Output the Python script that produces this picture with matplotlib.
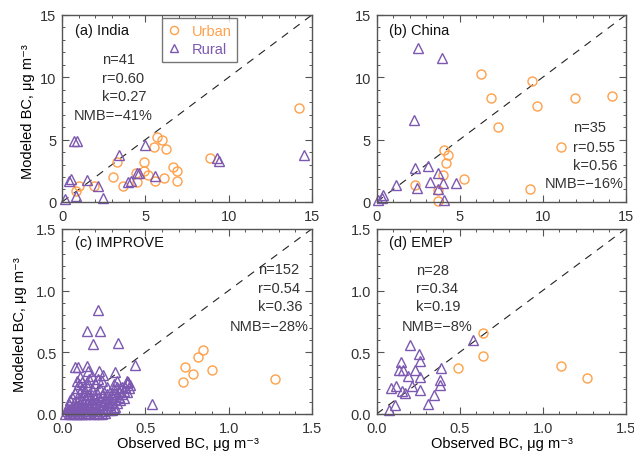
import matplotlib.pyplot as plt
from matplotlib.ticker import MultipleLocator

india_urb_obs = [14.24, 8.88, 5.72, 5.98, 5.52, 6.24, 3.32, 4.94, 4.94, 5.18, 6.68,
                 6.88, 6.88, 6.12, 5.58, 4.52, 4.44, 3.68, 3.08, 1.92, 1.02, 0.82]
india_urb_mod = [7.53, 3.56, 5.19, 4.95, 4.38, 4.25, 3.18, 3.22, 2.50, 2.14, 2.78,
                 2.46, 1.66, 1.92, 1.71, 1.58, 2.30, 1.31, 1.98, 1.31, 1.26, 0.84]
india_rur_obs = [0.72, 0.92, 4.98, 3.44, 9.28, 9.44, 14.54, 0.54, 0.44, 1.48, 2.16,
                 3.98, 4.12, 4.48, 4.60, 5.58, 0.82, 0.18, 2.48]
india_rur_mod = [4.87, 4.87, 4.60, 3.80, 3.53, 3.31, 3.75, 1.84, 1.66, 1.76, 1.28,
                 1.58, 1.71, 2.30, 2.30, 2.11, 0.51, 0.24, 0.32]

china_urb_obs = [6.30, 9.38, 6.90, 11.97, 14.18, 9.68, 7.30, 11.09, 4.07, 4.31, 4.15,
                 4.01, 5.27, 2.31, 3.67, 9.26, 3.67]
china_urb_mod = [10.27, 9.68, 8.36, 8.36, 8.47, 7.72, 6.00, 4.42, 4.18, 3.75, 3.16,
                 2.14, 1.82, 1.34, 0.99, 1.05, 0.10]
china_rur_obs = [2.49, 3.91, 2.25, 2.29, 3.10, 3.69, 1.15, 3.20, 4.00, 4.76, 2.41,
                 4.06, 0.36, 0.30, 0.10, 3.70]
china_rur_mod = [12.33, 11.53, 6.60, 2.70, 2.88, 2.29, 1.35, 1.57, 1.48, 1.48, 1.08,
                 0.12, 0.52, 0.32, 0.18, 1.02]

improve_urb_obs = [0.847, 0.817, 0.737, 0.787, 0.897, 0.727, 1.276]
improve_urb_mod = [0.52, 0.46, 0.38, 0.32, 0.36, 0.26, 0.28]
improve_rur_obs = [0.218, 0.148, 0.228, 0.188, 0.338, 0.438, 0.538, 0.078, 0.098, 0.148,
                   0.158, 0.224, 0.318, 0.248, 0.088, 0.148, 0.218, 0.388, 0.398, 0.408,
                   0.358, 0.33, 0.31,
                   0.02, 0.03, 0.03, 0.04, 0.04, 0.05, 0.05, 0.05, 0.06, 0.06, 0.06, 0.07,
                   0.07, 0.07, 0.08, 0.08, 0.08, 0.09, 0.09, 0.09, 0.10, 0.10, 0.10, 0.10,
                   0.11, 0.11, 0.11, 0.12, 0.12, 0.12, 0.12, 0.13, 0.13, 0.13, 0.14, 0.14,
                   0.14, 0.15, 0.15, 0.15, 0.16, 0.16, 0.16, 0.17, 0.17, 0.17, 0.18, 0.18,
                   0.18, 0.19, 0.19, 0.20, 0.20, 0.20, 0.21, 0.21, 0.22, 0.22, 0.22, 0.23,
                   0.23, 0.23, 0.24, 0.24, 0.25, 0.25, 0.25, 0.26, 0.26, 0.27, 0.27, 0.27,
                   0.28, 0.28, 0.29, 0.29, 0.30, 0.30, 0.31, 0.31, 0.32, 0.32, 0.33, 0.33,
                   0.34, 0.34, 0.35, 0.35, 0.36, 0.37, 0.37, 0.38, 0.39, 0.39, 0.40, 0.04,
                   0.06, 0.09, 0.11, 0.13, 0.14, 0.16, 0.19, 0.21, 0.24, 0.26, 0.28, 0.30,
                   0.32, 0.12, 0.16, 0.20, 0.24, 0.18, 0.11]
improve_rur_mod = [0.846, 0.67, 0.67, 0.567, 0.573, 0.40, 0.081, 0.378, 0.378, 0.39,
                   0.351, 0.351, 0.343, 0.316, 0.27, 0.257, 0.284, 0.27, 0.257, 0.235,
                   0.216, 0.27, 0.24,
                   0.00, 0.02, 0.05, 0.01, 0.08, 0.03, 0.00, 0.11, 0.02, 0.06, 0.14, 0.01,
                   0.04, 0.09, 0.00, 0.06, 0.17, 0.03, 0.10, 0.21, 0.01, 0.05, 0.13, 0.24,
                   0.03, 0.08, 0.18, 0.00, 0.06, 0.11, 0.21, 0.02, 0.09, 0.15, 0.05, 0.12,
                   0.19, 0.01, 0.08, 0.23, 0.04, 0.11, 0.16, 0.00, 0.07, 0.13, 0.03, 0.10,
                   0.20, 0.06, 0.15, 0.02, 0.09, 0.12, 0.05, 0.17, 0.00, 0.08, 0.14, 0.04,
                   0.11, 0.20, 0.07, 0.15, 0.02, 0.10, 0.18, 0.05, 0.13, 0.09, 0.16, 0.22,
                   0.03, 0.12, 0.07, 0.18, 0.10, 0.14, 0.05, 0.20, 0.12, 0.16, 0.09, 0.22,
                   0.14, 0.18, 0.11, 0.21, 0.16, 0.19, 0.13, 0.22, 0.18, 0.25, 0.21, 0.04,
                   0.00, 0.00, 0.00, 0.05, 0.00, 0.07, 0.00, 0.01, 0.00, 0.01, 0.07, 0.03,
                   0.06, 0.26, 0.28, 0.25, 0.27, 0.31, 0.30]

emep_urb_obs = [0.638, 0.638, 0.493, 1.111, 1.269]
emep_urb_mod = [0.652, 0.471, 0.370, 0.391, 0.293]
emep_rur_obs = [0.582, 0.199, 0.255, 0.261, 0.148, 0.132, 0.156, 0.231, 0.387, 0.191,
                0.261, 0.381, 0.381, 0.116, 0.086, 0.213, 0.150, 0.174, 0.261, 0.345,
                0.311, 0.108, 0.072]
emep_rur_mod = [0.598, 0.561, 0.484, 0.426, 0.418, 0.360, 0.360, 0.359, 0.370, 0.306,
                0.301, 0.274, 0.231, 0.226, 0.213, 0.226, 0.186, 0.173, 0.194, 0.152,
                0.080, 0.072, 0.035]

# Textos de cada painel
titulos = ["(a) India", "(b) China", "(c) IMPROVE", "(d) EMEP"]
estat = [["n=41", "r=0.60", "k=0.27", "NMB=\u221241%"],
         ["n=35", "r=0.55", "k=0.56", "NMB=\u221216%"],
         ["n=152", "r=0.54", "k=0.36", "NMB=\u221228%"],
         ["n=28", "r=0.34", "k=0.19", "NMB=\u22128%"]]

laranja = "#FFA04A"
roxo = "#7D58B0"
cinza = "#555555"
texto = "#333333"

plt.rcParams["font.family"] = ["Liberation Sans", "DejaVu Sans"]
plt.rcParams["font.size"] = 10.5
plt.rcParams["text.color"] = texto

fig = plt.figure(figsize=(6.34, 4.56), dpi=100)
# posicoes dos eixos em fracao da figura
pos = [[0.098, 0.555, 0.394, 0.410],
       [0.594, 0.555, 0.393, 0.410],
       [0.098, 0.090, 0.394, 0.406],
       [0.594, 0.090, 0.393, 0.406]]

dados = [(india_urb_obs, india_urb_mod, india_rur_obs, india_rur_mod),
         (china_urb_obs, china_urb_mod, china_rur_obs, china_rur_mod),
         (improve_urb_obs, improve_urb_mod, improve_rur_obs, improve_rur_mod),
         (emep_urb_obs, emep_urb_mod, emep_rur_obs, emep_rur_mod)]

# posicao (x esquerdo, y) dos textos de estatistica em fracao dos eixos
txt_x = [(0.159, 0.048), (0.789, 0.675), (0.785, 0.672), (0.158, 0.100)]
txt_y = [(0.765, 0.665, 0.568, 0.467), (0.40, 0.296, 0.20, 0.10),
         (0.784, 0.681, 0.582, 0.477), (0.78, 0.68, 0.582, 0.477)]

ylab = "Modeled BC, \u03bcg m\u207b\u00b3"
xlab = "Observed BC, \u03bcg m\u207b\u00b3"

for i in range(4):
    ax = fig.add_axes(pos[i])
    top = 15 if i < 2 else 1.5
    uo, um, ro, rm = dados[i]
    l, = ax.plot([0, top], [0, top], color="#222222", lw=0.8)
    l.set_dashes((7, 6))
    hu, = ax.plot(uo, um, "o", mfc="none", mec=laranja, ms=6.5, mew=1.0,
                  label="Urban", clip_on=False)
    hr, = ax.plot(ro, rm, "^", mfc="none", mec=roxo, ms=7, mew=1.0,
                  label="Rural", clip_on=False)
    ax.set_xlim(0, top)
    ax.set_ylim(0, top)
    if i < 2:
        ax.xaxis.set_major_locator(MultipleLocator(5))
        ax.yaxis.set_major_locator(MultipleLocator(5))
        ax.xaxis.set_minor_locator(MultipleLocator(1))
        ax.yaxis.set_minor_locator(MultipleLocator(1))
    else:
        ax.xaxis.set_major_locator(MultipleLocator(0.5))
        ax.yaxis.set_major_locator(MultipleLocator(0.5))
        ax.xaxis.set_minor_locator(MultipleLocator(0.1))
        ax.yaxis.set_minor_locator(MultipleLocator(0.1))
    ax.tick_params(which="both", direction="in", top=True, right=True,
                   colors=cinza, labelcolor=texto, labelsize=10.5)
    ax.tick_params(which="major", length=5, width=0.8)
    ax.tick_params(which="minor", length=2.5, width=0.7)
    ax.tick_params(axis="x", pad=5)
    ax.tick_params(axis="y", pad=4)
    for s in ax.spines.values():
        s.set_color(cinza)
        s.set_linewidth(1.0)

    ax.text(0.05, 0.92 if i < 2 else 0.931, titulos[i], transform=ax.transAxes,
            ha="left", va="center", color="#111111")
    for j in range(4):
        xx = txt_x[i][1] if j == 3 else txt_x[i][0]
        ax.text(xx, txt_y[i][j], estat[i][j], transform=ax.transAxes,
                ha="left", va="center")

    if i % 2 == 0:
        ax.set_ylabel(ylab)
        ax.yaxis.set_label_coords(-0.108 if i == 0 else -0.14, 0.49)
    if i >= 2:
        ax.set_xlabel(xlab, fontsize=10.5)
        ax.xaxis.set_label_coords(0.505, -0.118)
    if i == 0:
        leg = ax.legend(handles=[hu, hr], loc="upper left",
                        bbox_to_anchor=(0.401, 0.984), frameon=True,
                        fancybox=False, edgecolor=cinza, handlelength=0.8,
                        handletextpad=0.8, borderpad=0.4, labelspacing=0.3,
                        borderaxespad=0, markerscale=0.9)
        leg.get_frame().set_linewidth(1.0)
        leg.get_texts()[0].set_color(laranja)
        leg.get_texts()[1].set_color(roxo)

fig.savefig("out.png", dpi=100)
